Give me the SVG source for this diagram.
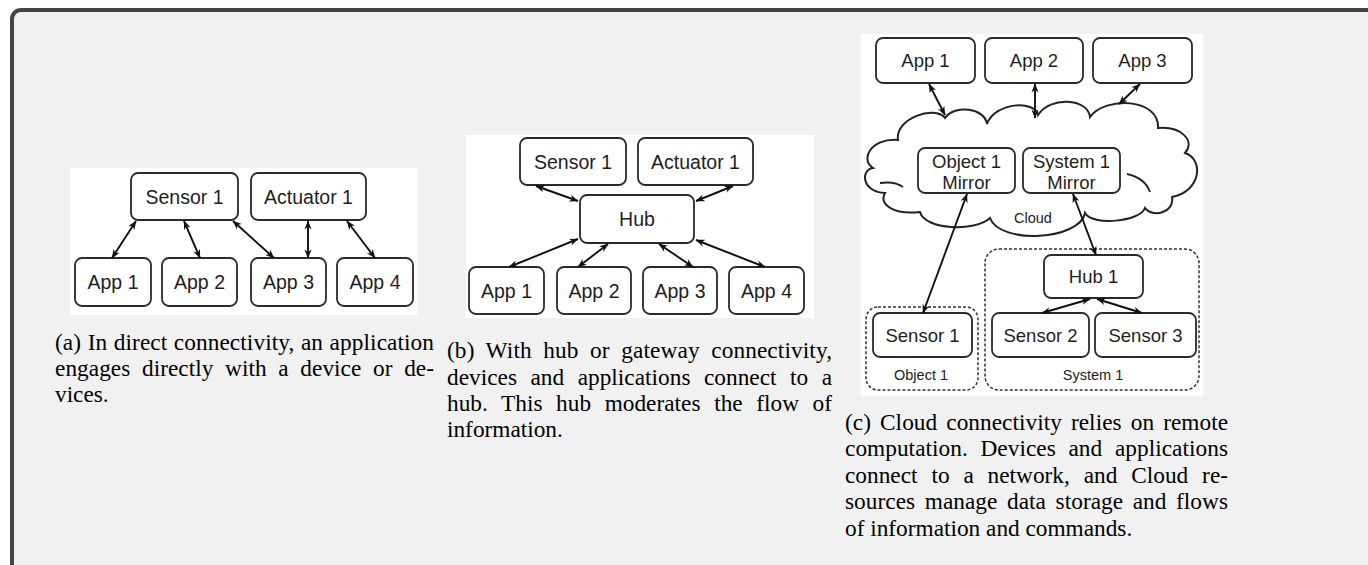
<svg xmlns="http://www.w3.org/2000/svg" width="1368" height="565" viewBox="0 0 1368 565">
<defs>
<style>
.box{fill:#fff;stroke:#2a2a2a;stroke-width:1.8}
.dash{fill:none;stroke:#333;stroke-width:1.5;stroke-dasharray:3 2}
.lbl{font-family:"Liberation Sans",Arial,sans-serif;font-size:19.5px;fill:#1e1e1e;text-anchor:middle}
.lc{font-family:"Liberation Sans",Arial,sans-serif;font-size:18.5px;fill:#1e1e1e;text-anchor:middle}
.sm{font-family:"Liberation Sans",Arial,sans-serif;font-size:14.5px;fill:#222;text-anchor:middle}
.cap{font-family:"Liberation Serif","Times New Roman",serif;font-size:23.3px;fill:#000}
.arr{stroke:#111;stroke-width:1.9;fill:none;marker-start:url(#ah);marker-end:url(#ah)}
.panel{fill:#fff}
</style>
<marker id="ah" viewBox="0 0 10 10" refX="9.5" refY="5" markerWidth="9" markerHeight="9" markerUnits="userSpaceOnUse" orient="auto-start-reverse">
<path d="M0,1 L10,5 L0,9 L3,5 z" fill="#111"/>
</marker>
</defs>
<rect x="0" y="0" width="1368" height="565" fill="#fff"/>
<rect x="12" y="10" width="1400" height="600" rx="9" fill="#f1f1f1" stroke="#444" stroke-width="4"/>

<!-- panel backgrounds -->
<rect class="panel" x="70" y="168" width="347" height="147"/>
<rect class="panel" x="466" y="135" width="348" height="183"/>
<rect class="panel" x="861" y="34" width="342" height="362"/>

<!-- Panel (a) -->
<g id="a-sensor1"><rect class="box" x="131" y="173" width="107" height="47" rx="7"/><text class="lbl" x="184.5" y="203.5">Sensor 1</text></g>
<g id="a-actuator1"><rect class="box" x="251" y="173" width="115" height="47" rx="7"/><text class="lbl" x="308.5" y="203.5">Actuator 1</text></g>
<g id="a-app1"><rect class="box" x="75" y="258" width="76" height="48" rx="7"/><text class="lbl" x="113" y="289">App 1</text></g>
<g id="a-app2"><rect class="box" x="162" y="258" width="75" height="48" rx="7"/><text class="lbl" x="199.5" y="289">App 2</text></g>
<g id="a-app3"><rect class="box" x="251" y="258" width="75" height="48" rx="7"/><text class="lbl" x="288.5" y="289">App 3</text></g>
<g id="a-app4"><rect class="box" x="337" y="258" width="76" height="48" rx="7"/><text class="lbl" x="375" y="289">App 4</text></g>

<!-- Panel (b) -->
<g id="b-sensor1"><rect class="box" x="520" y="138" width="106" height="47" rx="7"/><text class="lbl" x="573" y="168.5">Sensor 1</text></g>
<g id="b-actuator1"><rect class="box" x="638" y="138" width="115" height="47" rx="7"/><text class="lbl" x="695.5" y="168.5">Actuator 1</text></g>
<g id="b-hub"><rect class="box" x="580" y="195" width="114" height="48" rx="7"/><text class="lbl" x="637" y="226">Hub</text></g>
<g id="b-app1"><rect class="box" x="469" y="267" width="75" height="47" rx="7"/><text class="lbl" x="506.5" y="297.5">App 1</text></g>
<g id="b-app2"><rect class="box" x="557" y="267" width="74" height="47" rx="7"/><text class="lbl" x="594" y="297.5">App 2</text></g>
<g id="b-app3"><rect class="box" x="643" y="267" width="74" height="47" rx="7"/><text class="lbl" x="680" y="297.5">App 3</text></g>
<g id="b-app4"><rect class="box" x="729" y="267" width="75" height="47" rx="7"/><text class="lbl" x="766.5" y="297.5">App 4</text></g>

<!-- Panel (c) -->
<g id="c-cloud">
<path d="M898,140 C895,118 935,105 945,118 C955,104 985,108 987,124 C995,102 1035,100 1038,115 C1050,96 1088,98 1090,117 C1105,96 1160,98 1158,128 C1180,126 1196,140 1185,153 C1205,160 1200,192 1172,197 C1175,213 1152,218 1145,208 C1140,222 1092,226 1085,213 C1080,240 1000,245 990,218 C975,232 925,230 920,212 C895,215 878,205 885,193 C862,192 860,170 873,168 C860,160 870,138 898,140 Z" fill="#fff" stroke="#222" stroke-width="2"/>
<path d="M880,183 Q895,181 903,187" fill="none" stroke="#222" stroke-width="1.8"/>
<path d="M1127,174 Q1145,178 1150,192" fill="none" stroke="#222" stroke-width="1.8"/>
<text class="sm" x="1033" y="223">Cloud</text>
</g>
<g id="c-app1"><rect class="box" x="876" y="38" width="99" height="45" rx="7"/><text class="lc" x="925.5" y="67">App 1</text></g>
<g id="c-app2"><rect class="box" x="985" y="38" width="98" height="45" rx="7"/><text class="lc" x="1034" y="67">App 2</text></g>
<g id="c-app3"><rect class="box" x="1093" y="38" width="99" height="45" rx="7"/><text class="lc" x="1142.5" y="67">App 3</text></g>
<g id="c-obj1mirror"><rect class="box" x="918" y="148" width="97" height="45" rx="7"/><text class="lc" x="966.5" y="168">Object 1</text><text class="lc" x="966.5" y="189">Mirror</text></g>
<g id="c-sys1mirror"><rect class="box" x="1023" y="148" width="97" height="45" rx="7"/><text class="lc" x="1071.5" y="168">System 1</text><text class="lc" x="1071.5" y="189">Mirror</text></g>
<g id="c-object1"><rect class="dash" x="866" y="307" width="112" height="83" rx="12"/><text class="sm" x="921" y="380">Object 1</text></g>
<g id="c-system1"><rect class="dash" x="985" y="249" width="214" height="141" rx="14"/><text class="sm" x="1093" y="380">System 1</text></g>
<g id="c-sensor1"><rect class="box" x="873" y="313" width="99" height="44" rx="7"/><text class="lc" x="922.5" y="341.5">Sensor 1</text></g>
<g id="c-hub1"><rect class="box" x="1044" y="255" width="99" height="43" rx="7"/><text class="lc" x="1093.5" y="283">Hub 1</text></g>
<g id="c-sensor2"><rect class="box" x="992" y="313" width="97" height="44" rx="7"/><text class="lc" x="1040.5" y="341.5">Sensor 2</text></g>
<g id="c-sensor3"><rect class="box" x="1095" y="313" width="101" height="44" rx="7"/><text class="lc" x="1145.5" y="341.5">Sensor 3</text></g>

<!-- connectors -->
<g id="connectors">
<line class="arr" x1="136" y1="221" x2="112" y2="258"/>
<line class="arr" x1="184" y1="221" x2="200" y2="258"/>
<line class="arr" x1="233" y1="221" x2="274" y2="258"/>
<line class="arr" x1="308" y1="221" x2="308" y2="258"/>
<line class="arr" x1="347" y1="221" x2="375" y2="258"/>

<line class="arr" x1="536" y1="186" x2="578" y2="201"/>
<line class="arr" x1="733" y1="186" x2="696" y2="201"/>
<line class="arr" x1="578" y1="239" x2="509" y2="267"/>
<line class="arr" x1="608" y1="244" x2="578" y2="267"/>
<line class="arr" x1="659" y1="244" x2="693" y2="267"/>
<line class="arr" x1="696" y1="240" x2="765" y2="267"/>

<line class="arr" x1="929" y1="84" x2="945" y2="115"/>
<line class="arr" x1="1035" y1="84" x2="1035" y2="118"/>
<line class="arr" x1="1140" y1="84" x2="1119" y2="104"/>
<line class="arr" x1="967" y1="194" x2="923" y2="313"/>
<line class="arr" x1="1073" y1="194" x2="1096" y2="255"/>
<line class="arr" x1="1090" y1="299" x2="1042" y2="313"/>
<line class="arr" x1="1097" y1="299" x2="1142" y2="313"/>
</g>

<!-- captions -->
<g id="caption-a" class="cap">
<text x="55" y="350" word-spacing="0.6" textLength="379" lengthAdjust="spacing">(a) In direct connectivity, an application</text>
<text x="55" y="376" word-spacing="5.8" textLength="379" lengthAdjust="spacing">engages directly with a device or de-</text>
<text x="55" y="402">vices.</text>
</g>
<g id="caption-b" class="cap">
<text x="447" y="358" word-spacing="5.6" textLength="385" lengthAdjust="spacing">(b) With hub or gateway connectivity,</text>
<text x="447" y="385" word-spacing="7.6" textLength="385" lengthAdjust="spacing">devices and applications connect to a</text>
<text x="447" y="411" word-spacing="7.7" textLength="385" lengthAdjust="spacing">hub. This hub moderates the flow of</text>
<text x="447" y="437">information.</text>
</g>
<g id="caption-c" class="cap">
<text x="845" y="430" word-spacing="3.2" textLength="383" lengthAdjust="spacing">(c) Cloud connectivity relies on remote</text>
<text x="845" y="456" word-spacing="6.8" textLength="383" lengthAdjust="spacing">computation. Devices and applications</text>
<text x="845" y="483" word-spacing="8" textLength="383" lengthAdjust="spacing">connect to a network, and Cloud re-</text>
<text x="845" y="509" word-spacing="3.7" textLength="383" lengthAdjust="spacing">sources manage data storage and flows</text>
<text x="845" y="536">of information and commands.</text>
</g>
</svg>
